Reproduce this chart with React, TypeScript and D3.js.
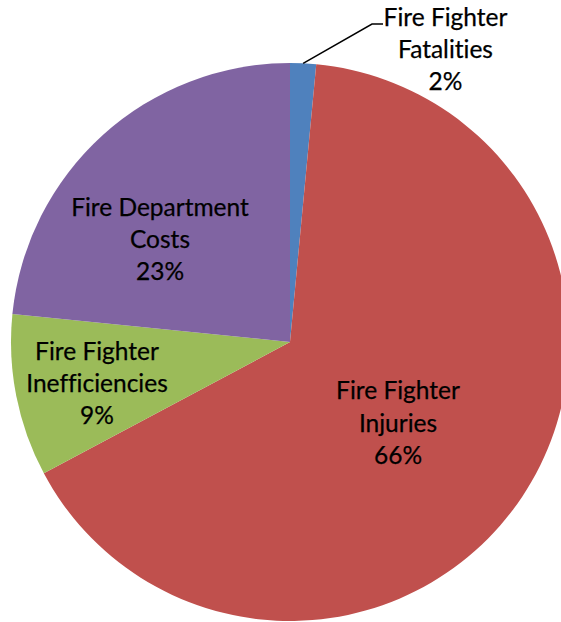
import React from "react";
import * as d3 from "d3";

const categories = [
  "Fire Fighter Fatalities",
  "Fire Fighter Injuries",
  "Fire Fighter Inefficiencies",
  "Fire Department Costs",
];
const labelLines = [
  ["Fire Fighter", "Fatalities"],
  ["Fire Fighter", "Injuries"],
  ["Fire Fighter", "Inefficiencies"],
  ["Fire Department", "Costs"],
];
const values = [1.5, 65.7, 9.4, 23.4];
const colors = ["#4F81BD", "#C0504D", "#9BBB59", "#8064A2"];

const W = 561;
const H = 622;
const CX = 290;
const CY = 342;
const R = 279;
const FONT = "Lato, 'Open Sans', sans-serif";
const FS = 24.5;
const LH = 32.3;

// label centres relative to pie centre (dx, dy of middle line baseline)
const labelPos: [number, number][] = [
  [155.5, -284],
  [108, 89.5],
  [-193, 50],
  [-130, -94],
];

export default function App() {
  const total = d3.sum(values);
  const pie = d3
    .pie<number>()
    .sort(null)
    .value((d) => d);
  const arcs = pie(values);
  const arcGen = d3.arc<d3.PieArcDatum<number>>().innerRadius(0).outerRadius(R);

  const fat = arcs[0];
  const mid = (fat.startAngle + fat.endAngle) / 2;
  const p0: [number, number] = [Math.sin(mid) * R, -Math.cos(mid) * R];
  const p1: [number, number] = [82, -318];
  const p2: [number, number] = [93, -318];

  return (
    <svg
      width={W}
      height={H}
      style={{ position: "absolute", left: 0, top: 0, background: "#fff" }}
    >
      <g transform={`translate(${CX},${CY})`}>
        {arcs.map((a, i) => (
          <path key={categories[i]} d={arcGen(a) || ""} fill={colors[i]} />
        ))}
        <path
          d={d3.line()([p0, p1, p2]) || ""}
          fill="none"
          stroke="#000"
          strokeWidth={1.5}
        />
        {arcs.map((a, i) => {
          const [dx, dy] = labelPos[i];
          const lines = [
            ...labelLines[i],
            `${Math.round((values[i] / total) * 100)}%`,
          ];
          return (
            <text
              key={"t" + i}
              textAnchor="middle"
              fontFamily={FONT}
              fontSize={FS}
              fill="#000"
              stroke="#000"
              strokeWidth={0.25}
              style={{
                fontVariantLigatures: "none",
                fontFeatureSettings: "'liga' 0, 'clig' 0, 'dlig' 0",
              }}
            >
              {lines.map((l, j) => (
                <tspan key={j} x={dx} y={dy + (j - 1) * LH}>
                  {l}
                </tspan>
              ))}
            </text>
          );
        })}
      </g>
    </svg>
  );
}
